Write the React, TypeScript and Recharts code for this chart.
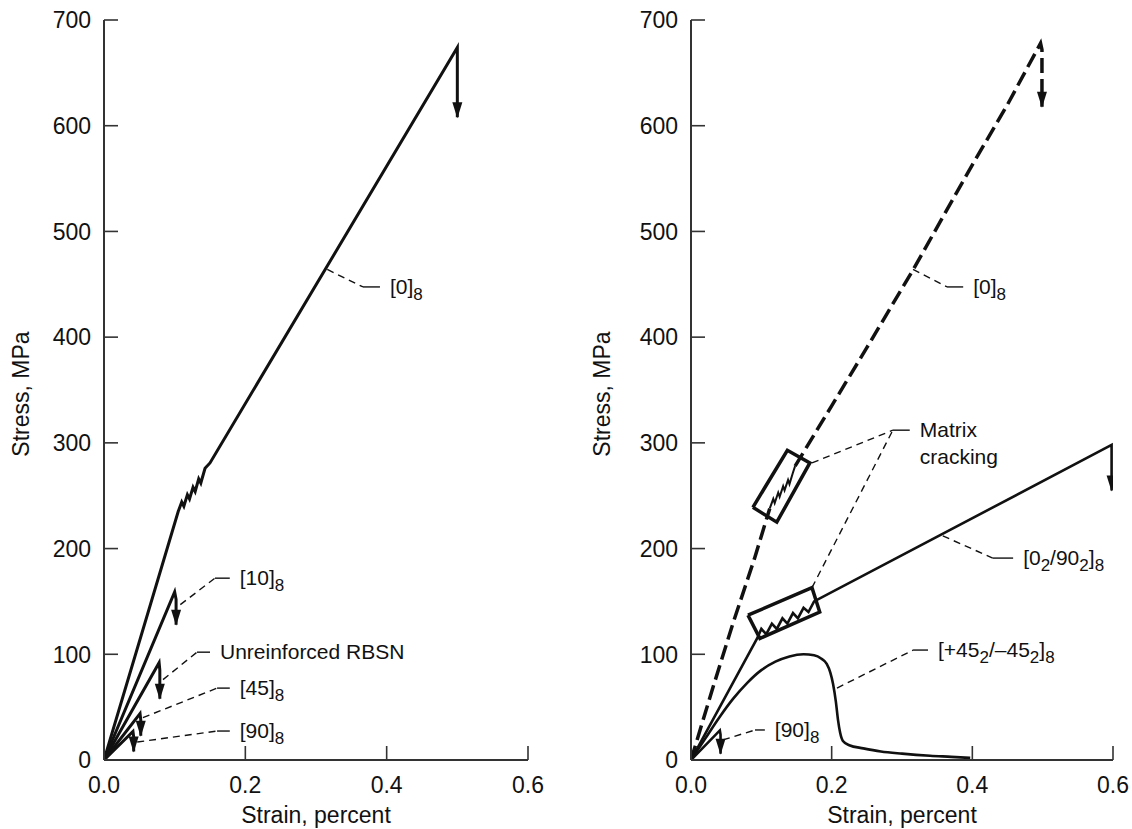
import React from 'react';
import { LineChart, Line, XAxis, YAxis, ReferenceDot } from 'recharts';

// ---- shared axes ----
const STRAIN_TICKS = [0, 0.2, 0.4, 0.6];
const STRESS_TICKS = [0, 100, 200, 300, 400, 500, 600, 700];

// ---- left panel: unidirectional / unreinforced ----
const L_ZERO = [
  { x: 0, y: 0 }, { x: 0.105, y: 235 }, { x: 0.11, y: 244 }, { x: 0.113, y: 240 },
  { x: 0.118, y: 251 }, { x: 0.121, y: 247 }, { x: 0.126, y: 258 }, { x: 0.129, y: 254 },
  { x: 0.134, y: 266 }, { x: 0.137, y: 262 }, { x: 0.143, y: 276 }, { x: 0.15, y: 281 },
  { x: 0.5, y: 674 }, { x: 0.5, y: 608 },
];
const L_TEN = [{ x: 0, y: 0 }, { x: 0.1, y: 159 }, { x: 0.102, y: 152 }, { x: 0.102, y: 128 }];
const L_RBSN = [{ x: 0, y: 0 }, { x: 0.078, y: 92 }, { x: 0.079, y: 85 }, { x: 0.079, y: 58 }];
const L_FORTYFIVE = [{ x: 0, y: 0 }, { x: 0.051, y: 44 }, { x: 0.052, y: 38 }, { x: 0.052, y: 23 }];
const L_NINETY = [{ x: 0, y: 0 }, { x: 0.041, y: 27 }, { x: 0.042, y: 22 }, { x: 0.042, y: 8 }];

// leaders: point on curve, elbow, end of label stub
const L_LEAD_ZERO = [{ x: 0.316, y: 464 }, { x: 0.3665, y: 447.5 }, { x: 0.3905, y: 447.5 }];
const L_LEAD_TEN = [{ x: 0.108, y: 147 }, { x: 0.157, y: 172 }, { x: 0.178, y: 172 }];
const L_LEAD_RBSN = [{ x: 0.0835, y: 76 }, { x: 0.1316, y: 102 }, { x: 0.15, y: 102 }];
const L_LEAD_FORTYFIVE = [{ x: 0.055, y: 40 }, { x: 0.16, y: 68 }, { x: 0.178, y: 68 }];
const L_LEAD_NINETY = [{ x: 0.047, y: 17 }, { x: 0.16, y: 27.4 }, { x: 0.178, y: 27.4 }];

// ---- right panel: laminates ----
const R_ZERO_LOW = [
  { x: 0, y: 0 }, { x: 0.03, y: 66 }, { x: 0.06, y: 130 }, { x: 0.09, y: 190 }, { x: 0.112, y: 238 },
];
const R_ZERO_CRACK = [
  { x: 0.112, y: 238 }, { x: 0.117, y: 247 }, { x: 0.119, y: 243 }, { x: 0.124, y: 253 },
  { x: 0.126, y: 249 }, { x: 0.131, y: 259 }, { x: 0.133, y: 255 }, { x: 0.138, y: 265 },
  { x: 0.14, y: 261 }, { x: 0.145, y: 272 }, { x: 0.148, y: 278 },
];
const R_ZERO_HIGH = [
  { x: 0.148, y: 278 }, { x: 0.2, y: 335 }, { x: 0.25, y: 390 }, { x: 0.316, y: 464 },
  { x: 0.4, y: 563 }, { x: 0.45, y: 620 }, { x: 0.497, y: 678 }, { x: 0.499, y: 672 }, { x: 0.499, y: 618 },
];
const R_CROSS = [
  { x: 0, y: 0 }, { x: 0.094, y: 115 }, { x: 0.1, y: 124 }, { x: 0.107, y: 119 }, { x: 0.115, y: 129 },
  { x: 0.122, y: 124 }, { x: 0.13, y: 134 }, { x: 0.137, y: 129 }, { x: 0.145, y: 139 },
  { x: 0.152, y: 134 }, { x: 0.16, y: 144 }, { x: 0.167, y: 140 }, { x: 0.175, y: 150 },
  { x: 0.598, y: 298 }, { x: 0.598, y: 255 },
];
const R_ANGLE = [
  { x: 0, y: 0 }, { x: 0.02, y: 20 }, { x: 0.04, y: 40 }, { x: 0.06, y: 58 }, { x: 0.08, y: 73 },
  { x: 0.1, y: 85 }, { x: 0.12, y: 93 }, { x: 0.14, y: 98 }, { x: 0.16, y: 100 }, { x: 0.175, y: 99 },
  { x: 0.185, y: 96 }, { x: 0.193, y: 91 }, { x: 0.198, y: 83 }, { x: 0.202, y: 72 }, { x: 0.206, y: 55 },
  { x: 0.209, y: 38 }, { x: 0.212, y: 26 }, { x: 0.216, y: 18 }, { x: 0.225, y: 14 }, { x: 0.245, y: 11 },
  { x: 0.27, y: 8 }, { x: 0.3, y: 6 }, { x: 0.34, y: 4 }, { x: 0.37, y: 3 }, { x: 0.397, y: 2 },
];
const R_NINETY = [{ x: 0, y: 0 }, { x: 0.041, y: 28 }, { x: 0.042, y: 24 }, { x: 0.042, y: 6 }];

// matrix cracking boxes (closed outlines)
const R_BOX_ZERO = [
  { x: 0.088, y: 239 }, { x: 0.122, y: 225 }, { x: 0.169, y: 281 }, { x: 0.137, y: 293 }, { x: 0.088, y: 239 },
];
const R_BOX_CROSS = [
  { x: 0.081, y: 137 }, { x: 0.098, y: 115 }, { x: 0.183, y: 140 }, { x: 0.172, y: 163 }, { x: 0.081, y: 137 },
];

const R_LEAD_ZERO = [{ x: 0.3157, y: 464 }, { x: 0.364, y: 447.5 }, { x: 0.387, y: 447.5 }];
const R_LEAD_CRACK_A = [{ x: 0.172, y: 281 }, { x: 0.287, y: 312 }, { x: 0.311, y: 312 }];
const R_LEAD_CRACK_B = [{ x: 0.172, y: 163 }, { x: 0.287, y: 312 }, { x: 0.311, y: 312 }];
const R_LEAD_CROSS = [{ x: 0.358, y: 212 }, { x: 0.429, y: 191 }, { x: 0.458, y: 191 }];
const R_LEAD_ANGLE = [{ x: 0.2076, y: 68 }, { x: 0.3157, y: 104 }, { x: 0.337, y: 104 }];
const R_LEAD_NINETY = [{ x: 0.0455, y: 19 }, { x: 0.091, y: 28.4 }, { x: 0.105, y: 28.4 }];

// label text: [text, isSubscript]
type Part = [string, boolean];
const LBL_ZERO: Part[][] = [[['[0]', false], ['8', true]]];
const LBL_TEN: Part[][] = [[['[10]', false], ['8', true]]];
const LBL_RBSN: Part[][] = [[['Unreinforced RBSN', false]]];
const LBL_FORTYFIVE: Part[][] = [[['[45]', false], ['8', true]]];
const LBL_NINETY: Part[][] = [[['[90]', false], ['8', true]]];
const LBL_CRACK: Part[][] = [[['Matrix', false]], [['cracking', false]]];
const LBL_CROSS: Part[][] = [[['[0', false], ['2', true], ['/90', false], ['2', true], [']', false], ['8', true]]];
const LBL_ANGLE: Part[][] = [[['[+45', false], ['2', true], ['/\u201345', false], ['2', true], [']', false], ['8', true]]];

const FONT = '"Liberation Sans", Arial, Helvetica, sans-serif';
const INK = '#111';
const AXIS = '#333';

const arrowDot = (n: number) => (props: any) => {
  const { cx, cy, index } = props;
  if (index !== n - 1) return <g key={`d${index}`} />;
  return (
    <path key={`d${index}`} d={`M${cx},${cy + 1} L${cx - 5},${cy - 15} L${cx + 5},${cy - 15} Z`} fill={INK} />
  );
};

const XTick = (props: any) => {
  const { x, y, payload } = props;
  return (
    <g>
      <line x1={x} y1={y} x2={x} y2={y - 14} stroke={AXIS} strokeWidth={1.6} />
      <text x={x} y={y + 33} textAnchor="middle" fontSize={23} fill={INK} fontFamily={FONT}>
        {Number(payload.value).toFixed(1)}
      </text>
    </g>
  );
};

const YTick = (props: any) => {
  const { x, y, payload } = props;
  return (
    <g>
      <line x1={x} y1={y} x2={x + 14} y2={y} stroke={AXIS} strokeWidth={1.6} />
      <text x={x - 13} y={y} dy="0.36em" textAnchor="end" fontSize={23} fill={INK} fontFamily={FONT}>
        {payload.value}
      </text>
    </g>
  );
};

const labelShape = (lines: Part[][]) => (props: any) => {
  const { cx, cy } = props;
  return (
    <g>
      {lines.map((parts, li) => {
        let prevSub = false;
        return (
          <text key={li} x={cx + 10} y={cy + 7 + li * 27} fontSize={21} fill={INK} fontFamily={FONT}>
            {parts.map(([t, sub], i) => {
              const dy = (sub ? 6 : 0) - (prevSub ? 6 : 0);
              prevSub = sub;
              return (
                <tspan key={i} dy={dy} fontSize={sub ? 17 : 21}>
                  {t}
                </tspan>
              );
            })}
          </text>
        );
      })}
    </g>
  );
};

const curve = (key: string, data: any[], opts: any = {}) => (
  <Line
    key={key}
    data={data}
    dataKey="y"
    type={opts.smooth ? 'monotone' : 'linear'}
    stroke={INK}
    strokeWidth={opts.width ?? 3}
    strokeDasharray={opts.dash}
    dot={opts.arrow ? arrowDot(data.length) : false}
    activeDot={false}
    legendType="none"
    isAnimationActive={false}
  />
);

const leader = (key: string, pts: any[], lines: Part[][]) => [
  curve(`${key}-dash`, pts.slice(0, 2), { width: 1.4, dash: '7 5' }),
  curve(`${key}-stub`, pts.slice(1, 3), { width: 1.4 }),
  <ReferenceDot key={`${key}-lbl`} x={pts[2].x} y={pts[2].y} r={0} shape={labelShape(lines)} />,
];

const axes = (titleX: number) => [
  <XAxis
    key="x"
    dataKey="x"
    type="number"
    domain={[0, 0.6]}
    ticks={STRAIN_TICKS}
    interval={0}
    allowDataOverflow
    height={60}
    tickSize={0}
    tickMargin={0}
    tickLine={false}
    axisLine={{ stroke: AXIS, strokeWidth: 2 }}
    tick={<XTick />}
    label={{
      content: (p: any) => (
        <text
          x={p.viewBox.x + p.viewBox.width / 2}
          y={p.viewBox.y + 63}
          textAnchor="middle"
          fontSize={23}
          fill={INK}
          fontFamily={FONT}
        >
          Strain, percent
        </text>
      ),
    }}
  />,
  <YAxis
    key="y"
    type="number"
    domain={[0, 700]}
    ticks={STRESS_TICKS}
    interval={0}
    allowDataOverflow
    width={60}
    tickSize={0}
    tickMargin={0}
    tickLine={false}
    axisLine={{ stroke: AXIS, strokeWidth: 2 }}
    tick={<YTick />}
    label={{
      content: (p: any) => {
        const cy = p.viewBox.y + p.viewBox.height / 2 + 4;
        return (
          <text
            x={titleX}
            y={cy}
            transform={`rotate(-90 ${titleX} ${cy})`}
            textAnchor="middle"
            dominantBaseline="central"
            fontSize={23}
            fill={INK}
            fontFamily={FONT}
          >
            Stress, MPa
          </text>
        );
      },
    }}
  />,
];

export default function App() {
  return (
    <div style={{ position: 'absolute', left: 0, top: 0, width: 1132, height: 829, background: '#fff' }}>
      <div style={{ position: 'absolute', left: 0, top: 0 }}>
        <LineChart width={560} height={829} margin={{ top: 20, right: 32, bottom: 9, left: 44 }}>
          {axes(21)}
          {curve('l0', L_ZERO, { arrow: true })}
          {curve('l10', L_TEN, { arrow: true })}
          {curve('lr', L_RBSN, { arrow: true })}
          {curve('l45', L_FORTYFIVE, { arrow: true })}
          {curve('l90', L_NINETY, { arrow: true })}
          {leader('ld0', L_LEAD_ZERO, LBL_ZERO)}
          {leader('ld10', L_LEAD_TEN, LBL_TEN)}
          {leader('ldr', L_LEAD_RBSN, LBL_RBSN)}
          {leader('ld45', L_LEAD_FORTYFIVE, LBL_FORTYFIVE)}
          {leader('ld90', L_LEAD_NINETY, LBL_NINETY)}
        </LineChart>
      </div>
      <div style={{ position: 'absolute', left: 566, top: 0 }}>
        <LineChart width={566} height={829} margin={{ top: 20, right: 19, bottom: 9, left: 65 }}>
          {axes(36)}
          {curve('r0a', R_ZERO_LOW, { width: 3.5, dash: '15 6' })}
          {curve('r0b', R_ZERO_CRACK, { width: 2 })}
          {curve('r0c', R_ZERO_HIGH, { width: 3.5, dash: '15 6', arrow: true })}
          {curve('rx', R_CROSS, { width: 2.6, arrow: true })}
          {curve('ra', R_ANGLE, { width: 2.6, smooth: true })}
          {curve('r90', R_NINETY, { width: 2.6, arrow: true })}
          {curve('rb1', R_BOX_ZERO, { width: 3.5 })}
          {curve('rb2', R_BOX_CROSS, { width: 3.5 })}
          {leader('rd0', R_LEAD_ZERO, LBL_ZERO)}
          {curve('rdca', R_LEAD_CRACK_A.slice(0, 2), { width: 1.4, dash: '7 5' })}
          {leader('rdcb', R_LEAD_CRACK_B, LBL_CRACK)}
          {leader('rdx', R_LEAD_CROSS, LBL_CROSS)}
          {leader('rda', R_LEAD_ANGLE, LBL_ANGLE)}
          {leader('rd90', R_LEAD_NINETY, LBL_NINETY)}
        </LineChart>
      </div>
    </div>
  );
}
